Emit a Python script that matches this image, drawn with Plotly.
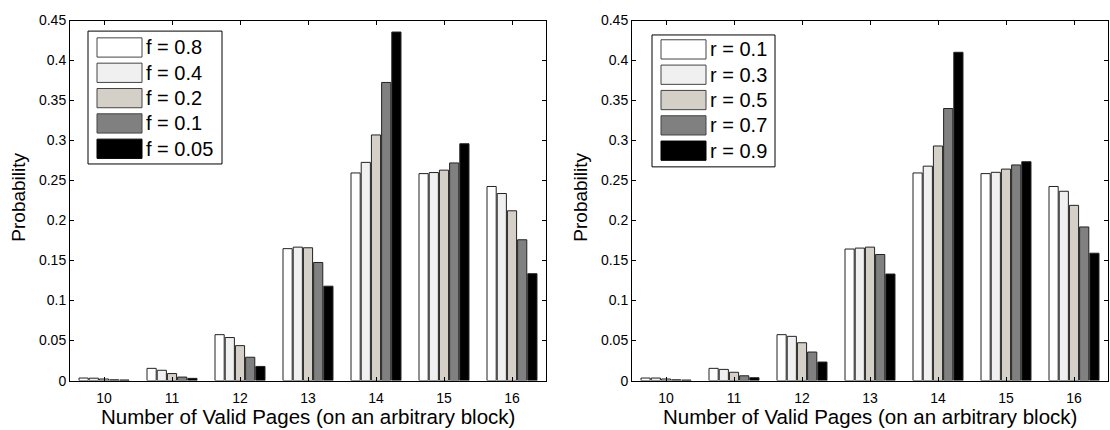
import plotly.graph_objects as go

# ---------------- data ----------------
categories = [10, 11, 12, 13, 14, 15, 16]
tick_vals = [0, 0.05, 0.1, 0.15, 0.2, 0.25, 0.3, 0.35, 0.4, 0.45]
tick_text = ["0", "0.05", "0.1", "0.15", "0.2", "0.25", "0.3", "0.35", "0.4", "0.45"]

f_labels = ["f = 0.8", "f = 0.4", "f = 0.2", "f = 0.1", "f = 0.05"]
f_08 = [0.0032, 0.0153, 0.0574, 0.1649, 0.2595, 0.2587, 0.2426]
f_04 = [0.0030, 0.0129, 0.0538, 0.1668, 0.2727, 0.2600, 0.2338]
f_02 = [0.0020, 0.0088, 0.0437, 0.1660, 0.3070, 0.2630, 0.2122]
f_01 = [0.0010, 0.0044, 0.0292, 0.1476, 0.3726, 0.2720, 0.1760]
f_005 = [0.0008, 0.0028, 0.0177, 0.1180, 0.4356, 0.2960, 0.1336]

r_labels = ["r = 0.1", "r = 0.3", "r = 0.5", "r = 0.7", "r = 0.9"]
r_01 = [0.0032, 0.0153, 0.0574, 0.1644, 0.2595, 0.2587, 0.2426]
r_03 = [0.0032, 0.0140, 0.0553, 0.1656, 0.2680, 0.2603, 0.2366]
r_05 = [0.0020, 0.0104, 0.0473, 0.1668, 0.2932, 0.2643, 0.2190]
r_07 = [0.0010, 0.0060, 0.0357, 0.1576, 0.3400, 0.2695, 0.1920]
r_09 = [0.0007, 0.0036, 0.0232, 0.1332, 0.4103, 0.2735, 0.1592]

x_title = "Number of Valid Pages (on an arbitrary block)"
y_title = "Probability"

# ---------------- styles ----------------
W, H = 1110, 430
colors = ["#ffffff", "#f0f0f0", "#d4d0c8", "#808080", "#000000"]
edge = "#222222"
FONT = "Liberation Sans, Arial, Helvetica, sans-serif"


def px(x):
    return x / W


def py(y):
    return 1 - y / H


fig = go.Figure()

f_series = [f_08, f_04, f_02, f_01, f_005]
r_series = [r_01, r_03, r_05, r_07, r_09]

for i, (lab, vals) in enumerate(zip(f_labels, f_series)):
    fig.add_trace(go.Bar(x=categories, y=vals, name=lab, xaxis="x", yaxis="y",
                         marker=dict(color=colors[i], line=dict(color=edge, width=1)),
                         offsetgroup=str(i), showlegend=False))
for i, (lab, vals) in enumerate(zip(r_labels, r_series)):
    fig.add_trace(go.Bar(x=categories, y=vals, name=lab, xaxis="x2", yaxis="y2",
                         marker=dict(color=colors[i], line=dict(color=edge, width=1)),
                         offsetgroup=str(i), showlegend=False))

# plot-area pixel boxes
left_box = (70, 546)
right_box = (632, 1108)
top_px, bot_px = 13, 387

axis_common = dict(showline=True, linecolor="black", linewidth=1, mirror="ticks",
                   ticks="inside", ticklen=4, tickcolor="black", showgrid=False,
                   zeroline=False, tickfont=dict(family=FONT, size=14, color="black"))

xa = dict(range=[9.5, 16.5], tickvals=categories, ticktext=[str(c) for c in categories],
          ticklabelstandoff=5, **axis_common)
ya = dict(range=[0, 0.45], tickvals=tick_vals, ticktext=tick_text, **axis_common)

fig.update_layout(
    width=W, height=H,
    margin=dict(l=0, r=0, t=0, b=0),
    paper_bgcolor="white", plot_bgcolor="white",
    barmode="group", bargap=0.25, bargroupgap=0.1,
    font=dict(family=FONT, color="black"),
    xaxis=dict(domain=[px(left_box[0]), px(left_box[1])], anchor="y", **xa),
    yaxis=dict(domain=[py(bot_px), py(top_px)], anchor="x", **ya),
    xaxis2=dict(domain=[px(right_box[0]), px(right_box[1])], anchor="y2", **xa),
    yaxis2=dict(domain=[py(bot_px), py(top_px)], anchor="x2", **ya),
)

shapes = []
annotations = []

# custom legends (MATLAB-style wide swatches)
legend_specs = [
    (f_labels, (88, 222, 24, 162), 97, 31),
    (r_labels, (652, 775, 28, 165), 661, 33),
]
for labels, (bx0, bx1, by0, by1), sx, sy in legend_specs:
    shapes.append(dict(type="rect", xref="paper", yref="paper",
                       x0=px(bx0), x1=px(bx1), y0=py(by1), y1=py(by0),
                       line=dict(color="black", width=1), fillcolor="white", layer="above"))
    for k, lab in enumerate(labels):
        t = sy + k * 26.3
        shapes.append(dict(type="rect", xref="paper", yref="paper",
                           x0=px(sx), x1=px(sx + 45), y0=py(t + 20), y1=py(t),
                           line=dict(color="#444444" if k < 4 else "black", width=1),
                           fillcolor=colors[k], layer="above"))
        annotations.append(dict(xref="paper", yref="paper", x=px(sx + 47), y=py(t + 10),
                                xanchor="left", yanchor="middle", showarrow=False,
                                text=lab, font=dict(family=FONT, size=20, color="black")))

# axis titles
for (x0, x1) in (left_box, right_box):
    annotations.append(dict(xref="paper", yref="paper", x=px((x0 + x1) / 2), y=py(410),
                            xanchor="center", yanchor="top", showarrow=False, text=x_title,
                            font=dict(family=FONT, size=20.5, color="black")))
for xc in (19, 581):
    annotations.append(dict(xref="paper", yref="paper", x=px(xc), y=py(197),
                            xanchor="center", yanchor="middle", showarrow=False, text=y_title,
                            textangle=-90, font=dict(family=FONT, size=19, color="black")))

fig.update_layout(shapes=shapes, annotations=annotations)

fig.write_html("out.html")
